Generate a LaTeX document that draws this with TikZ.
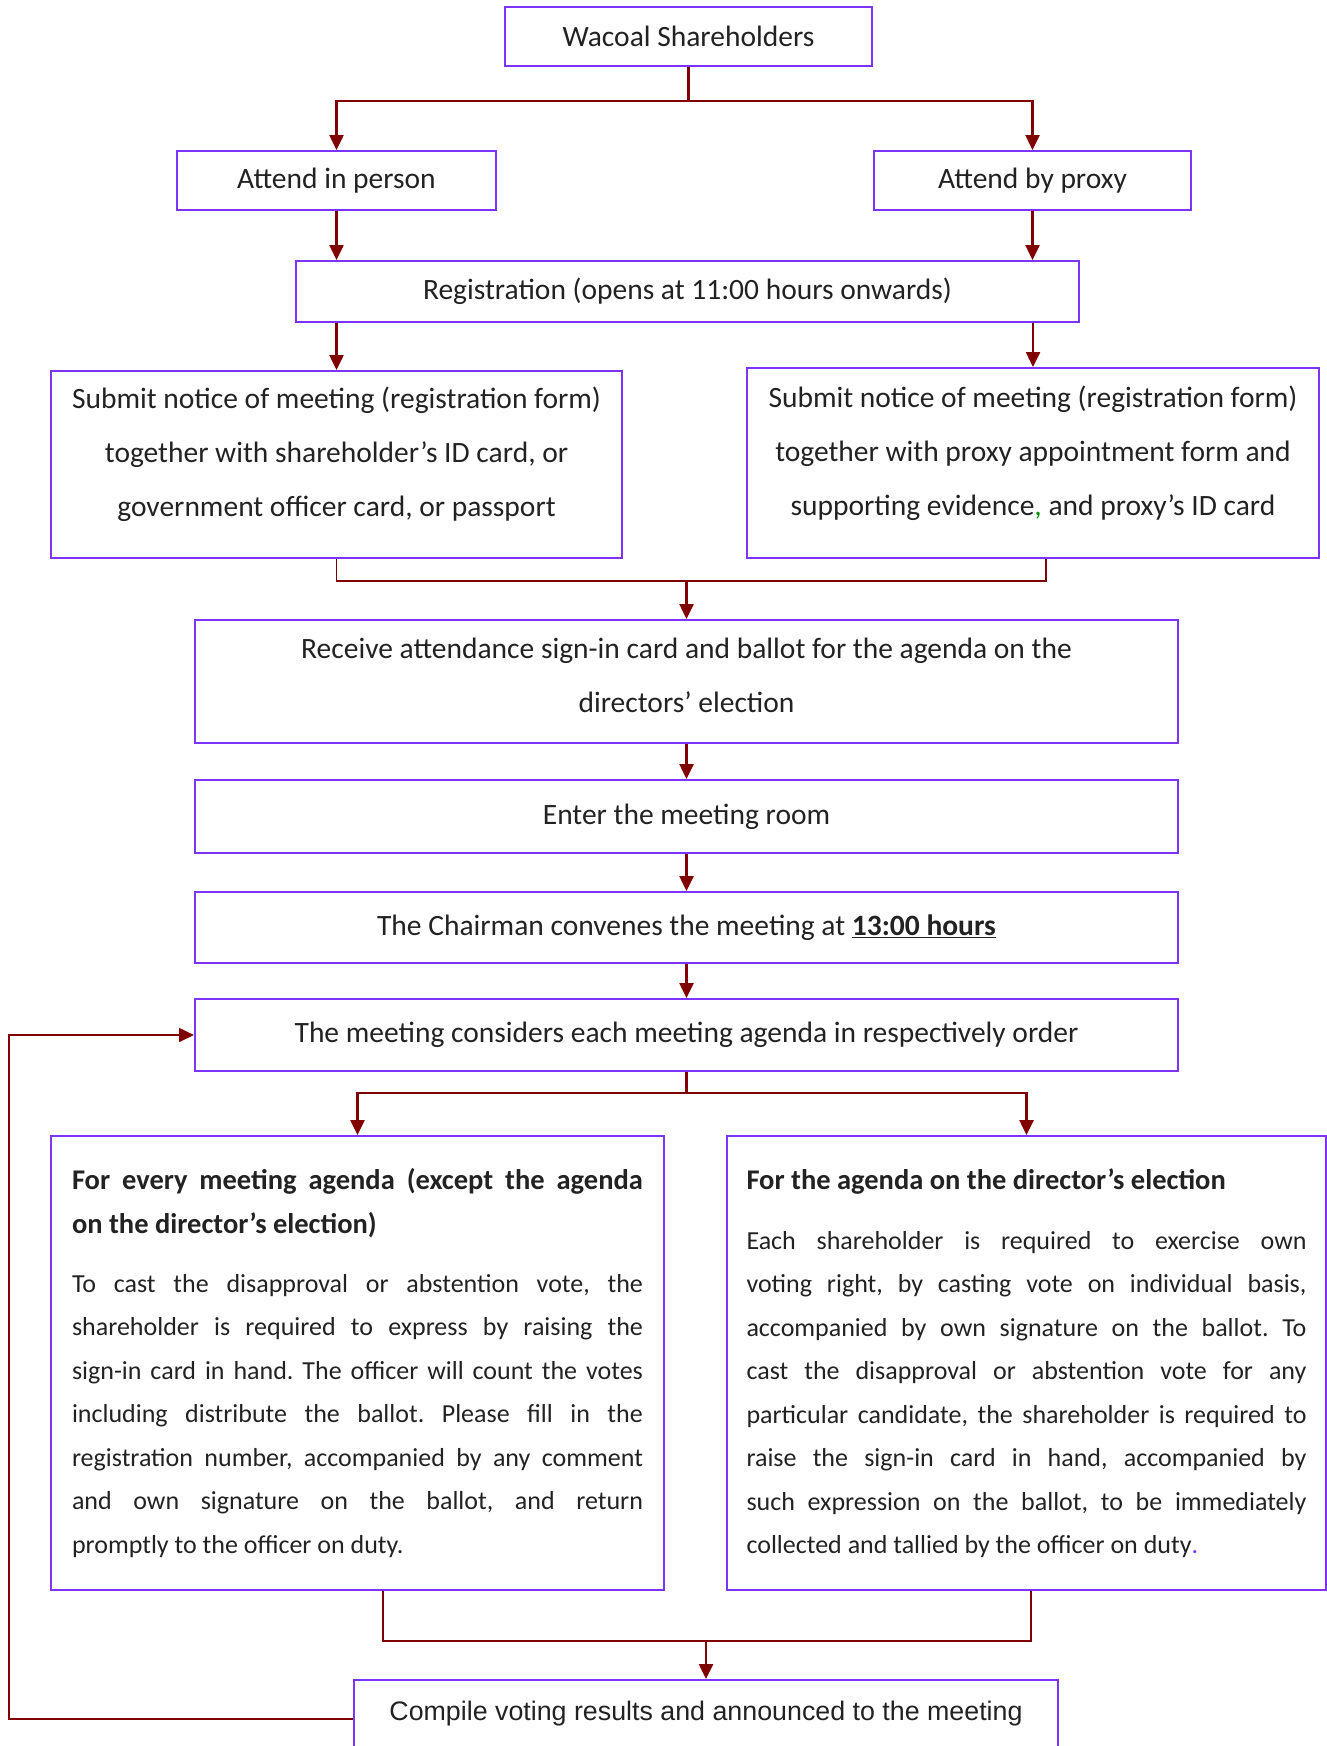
\documentclass[tikz,border=0pt]{standalone}
\usepackage{fontspec}
\setmainfont{Carlito}
\newfontfamily\arialfont{Liberation Sans}
\usetikzlibrary{arrows.meta}

\definecolor{boxline}{RGB}{124,52,250}
\definecolor{flowred}{RGB}{128,0,0}
\definecolor{ink}{RGB}{34,34,34}
\newcommand{\headfont}{\fontsize{28.5}{44}\selectfont\bfseries}
\newcommand{\bodyfont}{\fontsize{26}{43.5}\selectfont\mdseries}
\frenchspacing

\begin{document}
\begin{tikzpicture}[x=1pt, y=-1pt,
	box/.style 2 args={draw=boxline, line width=2pt, text=ink, inner sep=0pt,
		minimum width=#1pt, minimum height=#2pt, align=center,
		font=\fontsize{29.5}{54}\selectfont},
	agenda/.style={align=justify, text width=#1pt},
	link/.style={draw=flowred, line width=2.5pt},
	thinlink/.style={draw=flowred, line width=1.6pt},
	arr/.style={link, -{Triangle[length=15pt,width=14pt]}}
]
	\useasboundingbox (0,0) rectangle (1327,1746);

	% top part
	\node[box={367}{59}] (share) at (688.5,36.5) {Wacoal Shareholders};
	\node[box={319}{59}] (person) at (336.5,180.5) {Attend in person};
	\node[box={317}{59}] (proxy) at (1032.5,180.5) {Attend by proxy};
	\node[box={783}{61}] (reg) at (687.5,291.5) {Registration (opens at 11:00 hours onwards)};
	\node[box={571}{187}, text depth=25pt] (subL) at (336.5,464.5)
		{Submit notice of meeting (registration form)\\
		together with shareholder’s ID card, or\\
		government officer card, or passport};
	\node[box={572}{190}, text depth=25pt] (subR) at (1033,463)
		{Submit notice of meeting (registration form)\\
		together with proxy appointment form and\\
		supporting evidence\textcolor{green!55!black}{,} and proxy’s ID card};

	% middle column
	\node[box={983}{123}, text depth=12pt] (receive) at (686.5,681.5)
		{Receive attendance sign-in card and ballot for the agenda on the\\
		directors’ election};
	\node[box={983}{73}] (enter) at (686.5,816.5) {Enter the meeting room};
	\node[box={983}{71}] (chair) at (686.5,927.5)
		{The Chairman convenes the meeting at \underline{\textbf{13:00 hours}}};
	\node[box={983}{72}] (consider) at (686.5,1035)
		{The meeting considers each meeting agenda in respectively order};

	% agenda boxes
	\node[box={613}{454}, agenda=571] (agL) at (357.5,1363)
		{{\headfont For every meeting agenda (except the agenda\linebreak
		on the director’s election)\par}
		\vspace{15.5pt}
		\bodyfont To cast the disapproval or abstention vote, the\linebreak
		shareholder is required to express by raising the\linebreak
		sign-in card in hand. The officer will count the votes\linebreak
		including distribute the ballot. Please fill in the\linebreak
		registration number, accompanied by any comment\linebreak
		and own signature on the ballot, and return\linebreak
		promptly to the officer on duty.\par};
	\node[box={599}{454}, agenda=560] (agR) at (1026.5,1363)
		{{\headfont For the agenda on the director’s election\par}
		\vspace{16.5pt}
		\bodyfont Each shareholder is required to exercise own\linebreak
		voting right, by casting vote on individual basis,\linebreak
		accompanied by own signature on the ballot. To\linebreak
		cast the disapproval or abstention vote for any\linebreak
		particular candidate, the shareholder is required to\linebreak
		raise the sign-in card in hand, accompanied by\linebreak
		such expression on the ballot, to be immediately\linebreak
		collected and tallied by the officer on duty\textcolor{boxline}{.}\par};

	\node[box={704}{78}, font=\arialfont\fontsize{26.8}{30}\selectfont, text depth=17pt] (compile) at (706,1719)
		{Compile voting results and announced to the meeting};

	% connectors
	\coordinate (split1) at (688.5,101);
	\draw[link] (share) -- (split1);
	\draw[arr] (split1) -| (person);
	\draw[arr] (split1) -| (proxy);
	\draw[arr] (person) -- (person |- reg.north);
	\draw[arr] (proxy) -- (proxy |- reg.north);
	\draw[arr] (subL |- reg.south) -- (subL);
	\draw[arr] (subR |- reg.south) -- (subR);

	\coordinate (join1) at (686.5,581);
	\draw[thinlink] (subL) |- (join1) -| ([xshift=13pt]subR.south);
	\draw[arr] (join1) -- (receive);

	\foreach \a/\b in {receive/enter, enter/chair, chair/consider}
		\draw[arr] (\a) -- (\b);

	\coordinate (split2) at (686.5,1093);
	\draw[link] (consider) -- (split2);
	\draw[arr] (split2) -| (agL);
	\draw[arr] (split2) -| (agR);

	\coordinate (join2) at (706,1641);
	\draw[thinlink] ([xshift=25.5pt]agL.south) |- (join2) -| ([xshift=4.5pt]agR.south);
	\draw[arr] (join2) -- (compile);

	\coordinate (loop) at (9,1719);
	\draw[arr, line width=1.6pt] (compile) -- (loop) |- (consider);
\end{tikzpicture}
\end{document}
